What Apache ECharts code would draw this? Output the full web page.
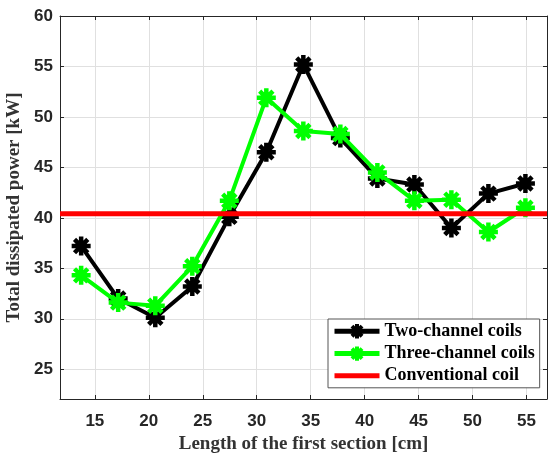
<!DOCTYPE html>
<html>
<head>
<meta charset="utf-8">
<script src="https://cdn.jsdelivr.net/npm/echarts@6/dist/echarts.min.js"></script>
<style>
  html, body { margin: 0; padding: 0; background: #fff; }
  #main { width: 548px; height: 453px; }
</style>
</head>
<body>
<div id="main"></div>
<script>
// data
var lengths = [13.73, 17.16, 20.6, 24.03, 27.46, 30.89, 34.32, 37.75, 41.18, 44.61, 48.04, 51.47, 54.9];
var twoChannel = [37.2, 32.0, 30.1, 33.2, 40.1, 46.5, 55.2, 47.9, 43.9, 43.3, 39.0, 42.4, 43.4];
var threeChannel = [34.3, 31.6, 31.3, 35.2, 41.7, 51.9, 48.6, 48.3, 44.5, 41.7, 41.8, 38.6, 41.0];
var conventional = 40.4;
var xTicks = [15, 20, 25, 30, 35, 40, 45, 50, 55];
var yTicks = [25, 30, 35, 40, 45, 50, 55, 60];
var xMin = 11.77, xMax = 56.9;
var yMin = 22.05, yMax = 60;

var myChart = echarts.init(document.getElementById('main'));

var star = 'path://M10,0L10,20M0,10L20,10M3,3L17,17M3,17L17,3';
function pairs(ys) {
    return lengths.map(function (x, i) { return [x, ys[i]]; });
}

var axisCol = '#262626';
var tickFont = { fontFamily: 'Liberation Sans', fontWeight: 'bold', fontSize: 17, color: axisCol };
var titleFont = { fontFamily: 'Liberation Serif', fontWeight: 'bold', fontSize: 19, color: '#333' };

var option = {
    animation: false,
    grid: { left: 60, right: 1, top: 16, bottom: 54, containLabel: false, outerBoundsMode: 'none' },
    xAxis: [
        {
            type: 'value', min: xMin, max: xMax,
            name: 'Length of the first section [cm]',
            nameLocation: 'middle', nameGap: 35, nameTextStyle: titleFont,
            axisLine: { lineStyle: { color: axisCol, width: 1 } },
            axisTick: { inside: true, length: 4, customValues: xTicks, lineStyle: { color: axisCol } },
            axisLabel: Object.assign({ customValues: xTicks, margin: 14 }, tickFont),
            splitLine: { show: true, lineStyle: { color: '#e0e0e0', width: 1 } }
        },
        {
            type: 'value', min: xMin, max: xMax, position: 'top',
            axisLine: { lineStyle: { color: axisCol, width: 1 } },
            axisTick: { inside: true, length: 4, customValues: xTicks, lineStyle: { color: axisCol } },
            axisLabel: { show: false },
            splitLine: { show: false }
        }
    ],
    yAxis: [
        {
            type: 'value', min: yMin, max: yMax,
            name: 'Total dissipated power [kW]',
            nameLocation: 'middle', nameGap: 34, nameTextStyle: titleFont,
            axisLine: { show: true, lineStyle: { color: axisCol, width: 1 } },
            axisTick: { show: true, inside: true, length: 4, customValues: yTicks, lineStyle: { color: axisCol } },
            axisLabel: Object.assign({ customValues: yTicks, margin: 7 }, tickFont),
            splitLine: { show: true, lineStyle: { color: '#e0e0e0', width: 1 } }
        },
        {
            type: 'value', min: yMin, max: yMax, position: 'right',
            axisLine: { show: true, lineStyle: { color: axisCol, width: 1 } },
            axisTick: { show: true, inside: true, length: 4, customValues: yTicks, lineStyle: { color: axisCol } },
            axisLabel: { show: false },
            splitLine: { show: false }
        }
    ],
    legend: {
        orient: 'vertical',
        left: 328, top: 319,
        backgroundColor: '#fff',
        borderColor: '#555', borderWidth: 1, borderRadius: 0,
        padding: [3, 5, 3, 4],
        itemGap: 4, itemWidth: 45, itemHeight: 18,
        lineStyle: { width: 5 },
        itemStyle: { borderWidth: 4 },
        textStyle: { fontFamily: 'Liberation Serif', fontWeight: 'bold', fontSize: 18, color: '#000' },
        data: [
            { name: 'Two-channel coils' },
            { name: 'Three-channel coils' },
            { name: 'Conventional coil', icon: 'path://M0,0L45,0L45,5L0,5Z' }
        ]
    },
    series: [
        {
            name: 'Two-channel coils', type: 'line',
            data: pairs(twoChannel),
            symbol: star, symbolSize: 19,
            lineStyle: { color: '#000', width: 4 },
            itemStyle: { color: '#000', borderColor: '#000', borderWidth: 4.5 },
            emphasis: { disabled: true },
            z: 2
        },
        {
            name: 'Three-channel coils', type: 'line',
            data: pairs(threeChannel),
            symbol: star, symbolSize: 19,
            lineStyle: { color: '#00ff00', width: 4 },
            itemStyle: { color: '#00ff00', borderColor: '#00ff00', borderWidth: 4.5 },
            emphasis: { disabled: true },
            z: 3
        },
        {
            name: 'Conventional coil', type: 'line',
            data: [[xMin, conventional], [xMax, conventional]],
            symbol: 'none',
            lineStyle: { color: '#ff0000', width: 5 },
            itemStyle: { color: '#ff0000' },
            emphasis: { disabled: true },
            z: 4
        }
    ]
};

myChart.setOption(option);
</script>
</body>
</html>
